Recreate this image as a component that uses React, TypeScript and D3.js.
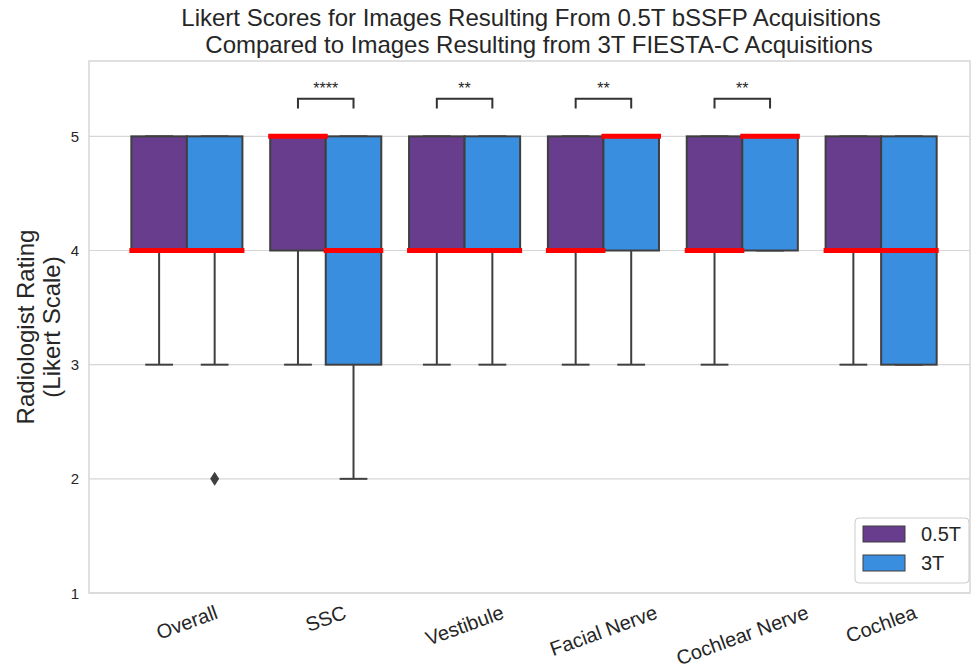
import React from "react";
import * as d3 from "d3";

// Likert rating summaries per anatomical structure
const categories = ["Overall", "SSC", "Vestibule", "Facial Nerve", "Cochlear Nerve", "Cochlea"];
const seriesNames = ["0.5T", "3T"];
const seriesColors = ["#693d8d", "#3a8ee0"];

// 0.5T bSSFP box statistics
const q1_05 = [4, 4, 4, 4, 4, 4];
const median_05 = [4, 5, 4, 4, 4, 4];
const q3_05 = [5, 5, 5, 5, 5, 5];
const whiskerLow_05 = [3, 3, 3, 3, 3, 3];
const whiskerHigh_05 = [5, 5, 5, 5, 5, 5];

// 3T FIESTA-C box statistics
const q1_3 = [4, 3, 4, 4, 4, 3];
const median_3 = [4, 4, 4, 5, 5, 4];
const q3_3 = [5, 5, 5, 5, 5, 5];
const whiskerLow_3 = [3, 2, 3, 3, 4, 3];
const whiskerHigh_3 = [5, 5, 5, 5, 5, 5];

// fliers: [category index, series index, value]
const outliers: [number, number, number][] = [[0, 1, 2]];

// significance brackets between the two series
const sigCategories = ["SSC", "Vestibule", "Facial Nerve", "Cochlear Nerve"];
const sigLabels = ["****", "**", "**", "**"];

const yTicks = [1, 2, 3, 4, 5];

const W = 971;
const H = 669;
const left = 89;
const right = 970;
const top = 61;
const bottom = 593;

const FONT = "'Liberation Sans', Arial, Helvetica, sans-serif";

function measure(text: string, size: number): number {
  const c = document.createElement("canvas").getContext("2d");
  if (!c) return text.length * size * 0.5;
  c.font = `${size}px ${FONT}`;
  return c.measureText(text).width;
}

export default function App() {
  const x = d3.scaleLinear().domain([-0.705, 5.64]).range([left, right]);
  const y = d3.scaleLinear().domain([1, 5.66]).range([bottom, top]);
  const groupW = (x(1) - x(0)) * 0.8;
  const boxW = groupW / 2;

  const stats = [
    { q1: q1_05, med: median_05, q3: q3_05, lo: whiskerLow_05, hi: whiskerHigh_05 },
    { q1: q1_3, med: median_3, q3: q3_3, lo: whiskerLow_3, hi: whiskerHigh_3 },
  ];

  const edge = "#3f3f3f";
  const boxes: React.ReactNode[] = [];
  const medians: React.ReactNode[] = [];
  categories.forEach((cat, i) => {
    stats.forEach((s, k) => {
      const x0 = x(i) - groupW / 2 + k * boxW;
      const cx = x0 + boxW / 2;
      const capHalf = boxW / 4;
      boxes.push(
        <g key={`${cat}-${k}`}>
          <line x1={cx} x2={cx} y1={y(s.q1[i])} y2={y(s.lo[i])} stroke={edge} strokeWidth={2} />
          <line x1={cx} x2={cx} y1={y(s.q3[i])} y2={y(s.hi[i])} stroke={edge} strokeWidth={2} />
          <line x1={cx - capHalf} x2={cx + capHalf} y1={y(s.lo[i])} y2={y(s.lo[i])} stroke={edge} strokeWidth={2} />
          <line x1={cx - capHalf} x2={cx + capHalf} y1={y(s.hi[i])} y2={y(s.hi[i])} stroke={edge} strokeWidth={2} />
          <rect
            x={x0}
            y={y(s.q3[i])}
            width={boxW}
            height={y(s.q1[i]) - y(s.q3[i])}
            fill={seriesColors[k]}
            stroke={edge}
            strokeWidth={2}
          />
        </g>
      );
      medians.push(
        <line
          key={`med-${cat}-${k}`}
          x1={x0 - 2}
          x2={x0 + boxW + 2}
          y1={y(s.med[i])}
          y2={y(s.med[i])}
          stroke="#ff0000"
          strokeWidth={5}
        />
      );
    });
  });

  const tickFont = 20;
  const xLabels = categories.map((cat, i) => {
    const w = measure(cat, tickFont);
    const h = tickFont * 1.0;
    const a = (20 * Math.PI) / 180;
    const bboxH = w * Math.sin(a) + h * Math.cos(a);
    const cy = bottom + 9 + bboxH / 2;
    return (
      <text
        key={cat}
        transform={`translate(${x(i)},${cy}) rotate(-20)`}
        textAnchor="middle"
        dominantBaseline="central"
        fontSize={tickFont}
        fill="#262626"
      >
        {cat}
      </text>
    );
  });

  const bracketY = y(5.33);
  const bracketTick = y(5.245);

  return (
    <svg width={W} height={H} style={{ position: "absolute", left: 0, top: 0 }} fontFamily={FONT}>
      <rect width={W} height={H} fill="#ffffff" />
      {/* horizontal grid */}
      {yTicks.map((t) => (
        <line key={t} x1={left} x2={right} y1={y(t)} y2={y(t)} stroke="#d6d6d6" strokeWidth={1.2} />
      ))}
      {/* frame */}
      <rect x={left} y={top} width={right - left} height={bottom - top} fill="none" stroke="#d6d6d6" strokeWidth={1.5} />
      {boxes}
      {medians}
      {outliers.map(([ci, si, v], j) => {
        const cx = x(ci) - groupW / 2 + si * boxW + boxW / 2;
        const cy = y(v);
        return (
          <path
            key={j}
            d={`M${cx},${cy - 7}L${cx + 4.5},${cy}L${cx},${cy + 7}L${cx - 4.5},${cy}Z`}
            fill={edge}
          />
        );
      })}
      {/* significance annotations */}
      {sigCategories.map((cat, j) => {
        const i = categories.indexOf(cat);
        const xa = x(i) - boxW / 2;
        const xb = x(i) + boxW / 2;
        return (
          <g key={cat}>
            <path
              d={`M${xa},${bracketTick}L${xa},${bracketY}L${xb},${bracketY}L${xb},${bracketTick}`}
              fill="none"
              stroke="#333333"
              strokeWidth={2}
            />
            <text x={(xa + xb) / 2} y={bracketY - 5} textAnchor="middle" fontSize={16} fill="#262626">
              {sigLabels[j]}
            </text>
          </g>
        );
      })}
      {/* y ticks */}
      {yTicks.map((t) => (
        <text key={t} x={79} y={y(t)} textAnchor="end" dominantBaseline="central" fontSize={15} fill="#262626">
          {t}
        </text>
      ))}
      {xLabels}
      {/* y label */}
      <text transform={`translate(34,${(top + bottom) / 2}) rotate(-90)`} textAnchor="middle" fontSize={24} fill="#262626">
        Radiologist Rating
      </text>
      <text transform={`translate(60,${(top + bottom) / 2}) rotate(-90)`} textAnchor="middle" fontSize={24} fill="#262626">
        (Likert Scale)
      </text>
      {/* title */}
      <text x={531} y={26} textAnchor="middle" fontSize={24} fill="#262626">
        Likert Scores for Images Resulting From 0.5T bSSFP Acquisitions
      </text>
      <text x={539} y={53} textAnchor="middle" fontSize={24} fill="#262626">
        Compared to Images Resulting from 3T FIESTA-C Acquisitions
      </text>
      {/* legend */}
      <g>
        <rect x={855} y={518} width={114} height={65} rx={4} fill="#ffffff" fillOpacity={0.8} stroke="#cccccc" strokeWidth={1} />
        {seriesNames.map((n, k) => (
          <g key={n}>
            <rect x={863} y={526 + k * 29} width={42} height={16} fill={seriesColors[k]} stroke={edge} strokeWidth={1} />
            <text x={921} y={534 + k * 29} dominantBaseline="central" fontSize={20} fill="#262626">
              {n}
            </text>
          </g>
        ))}
      </g>
    </svg>
  );
}
